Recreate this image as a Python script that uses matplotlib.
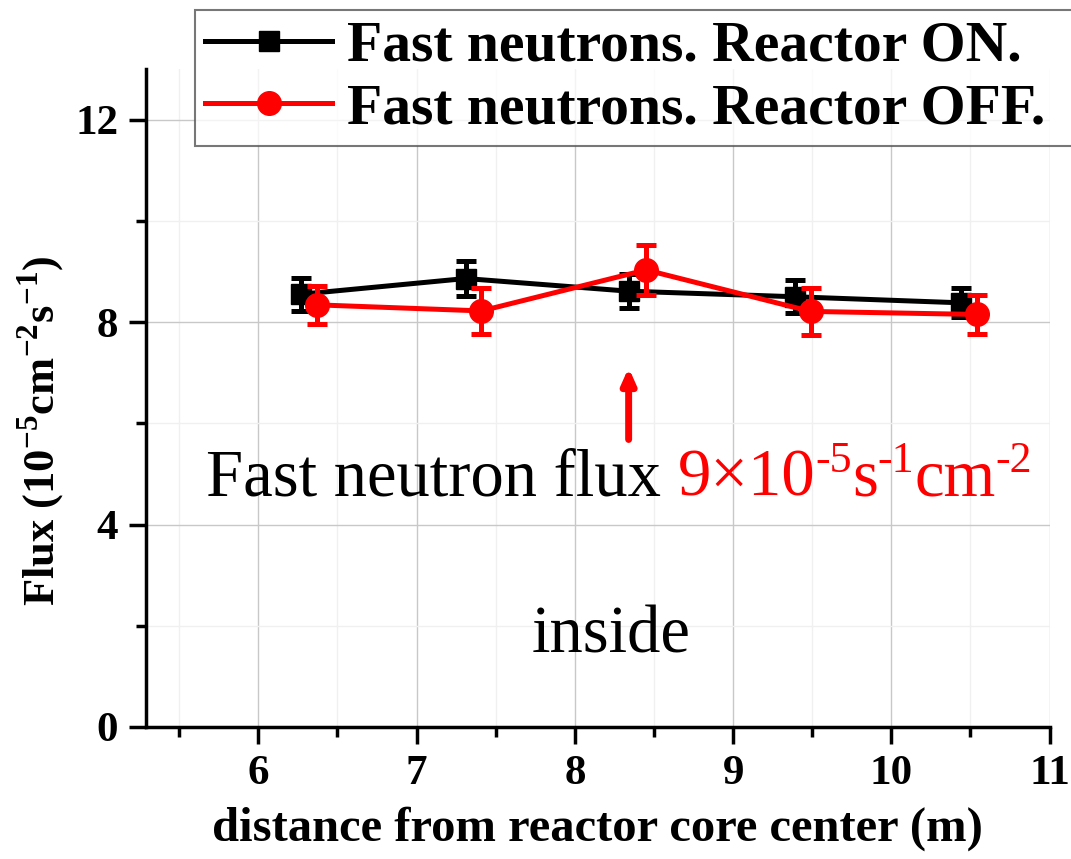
import matplotlib
matplotlib.use("Agg")
import matplotlib.pyplot as plt
from matplotlib.ticker import MultipleLocator
from matplotlib.lines import Line2D

# ---- data ----
x_on = [6.27, 7.31, 8.34, 9.39, 10.44]
y_on = [8.55, 8.86, 8.61, 8.50, 8.38]
err_on = [0.33, 0.35, 0.33, 0.33, 0.29]

x_off = [6.37, 7.41, 8.45, 9.49, 10.54]
y_off = [8.34, 8.22, 9.03, 8.21, 8.15]
err_off = [0.38, 0.46, 0.49, 0.46, 0.38]

label_on = "Fast neutrons. Reactor ON."
label_off = "Fast neutrons. Reactor OFF."
x_ticks = [6, 7, 8, 9, 10, 11]
y_ticks = [0, 4, 8, 12]

SERIF = ["Liberation Serif", "DejaVu Serif"]
plt.rcParams["font.family"] = SERIF

fig = plt.figure(figsize=(10.71, 8.59), dpi=100)
ax = fig.add_axes([0.1363, 0.1537, 0.980 - 0.1363, 0.9197 - 0.1537])

style_on = dict(color="black", lw=3.6, marker="s", ms=15)
style_off = dict(color="#ff0000", lw=3.6, marker="o", ms=17)

ax.errorbar(x_on, y_on, yerr=err_on, capsize=7, capthick=3.6,
            elinewidth=3.6, zorder=3, **style_on)
ax.errorbar(x_off, y_off, yerr=err_off, capsize=7, capthick=3.6,
            elinewidth=3.6, zorder=4, **style_off)

ax.set_xlim(5.29, 11.0)
ax.set_ylim(0, 13)
ax.set_xticks(x_ticks)
ax.set_yticks(y_ticks)
ax.xaxis.set_minor_locator(MultipleLocator(0.5))
ax.yaxis.set_minor_locator(MultipleLocator(2))

ax.grid(which="major", color="#c8c8c8", lw=1.0, zorder=0)
ax.grid(which="minor", color="#f0f0f0", lw=1.0, zorder=0)
ax.set_axisbelow(True)

for s in ["top", "right"]:
    ax.spines[s].set_visible(False)
for s in ["left", "bottom"]:
    ax.spines[s].set_linewidth(2.5)
ax.tick_params(which="major", direction="out", length=12, width=2.5,
               labelsize=31, pad=8)
ax.tick_params(which="minor", direction="out", length=7, width=2.5)
for lab in ax.get_xticklabels() + ax.get_yticklabels():
    lab.set_fontweight("bold")

ax.set_xlabel("distance from reactor core center (m)", fontsize=35,
              fontweight="bold", labelpad=10)
ax.set_ylabel("Flux (10$^{\\mathregular{-5}}$cm$^{\\mathregular{-2}}$s$^{\\mathregular{-1}}$)",
              fontsize=32, fontweight="bold")
ax.yaxis.set_label_coords(-0.087, 0.451)

handles = [Line2D([], [], **style_on), Line2D([], [], **style_off)]
leg = fig.legend(handles, [label_on, label_off], loc="upper left",
                 bbox_to_anchor=(195 / 1071, 0.0, 0.84, 1 - 10 / 859),
                 mode="expand",
                 prop={"family": SERIF, "weight": "bold", "size": 41.5},
                 frameon=True, fancybox=False, edgecolor="#555555",
                 handlelength=2.2, handletextpad=0.25, borderpad=0.18,
                 labelspacing=0.18, borderaxespad=0)
leg.get_frame().set_linewidth(1.5)

# annotation arrow
ax.annotate("", xy=(8.34, 7.1), xytext=(8.34, 5.68),
            arrowprops=dict(arrowstyle="-|>,head_length=0.9,head_width=0.4",
                            color="#ff0000", lw=5, shrinkA=0, shrinkB=0))

# annotation text built from pieces (text, colour, scale, raise in pt)
FS = 48
pieces = [("Fast neutron flux ", "black", 1.0, 0),
          ("9\u00d710", "#ff0000", 1.0, 0),
          ("-5", "#ff0000", 0.66, 17),
          ("s", "#ff0000", 1.0, 0),
          ("-1", "#ff0000", 0.66, 17),
          ("cm", "#ff0000", 1.0, 0),
          ("-2", "#ff0000", 0.66, 17)]
fig.canvas.draw()
renderer = fig.canvas.get_renderer()
x_pix, y_pix = ax.transData.transform((5.67, 4.57))
for txt, col, sc, rise in pieces:
    t = fig.text(x_pix / fig.dpi, y_pix / fig.dpi + rise / 72, txt,
                 fontsize=FS * sc, color=col, va="baseline", ha="left",
                 transform=fig.dpi_scale_trans)
    bb = t.get_window_extent(renderer)
    x_pix = bb.x1

ax.text(8.23, 1.48, "inside", fontsize=48, color="black", ha="center",
        va="baseline")

fig.savefig("out.png", dpi=100)
